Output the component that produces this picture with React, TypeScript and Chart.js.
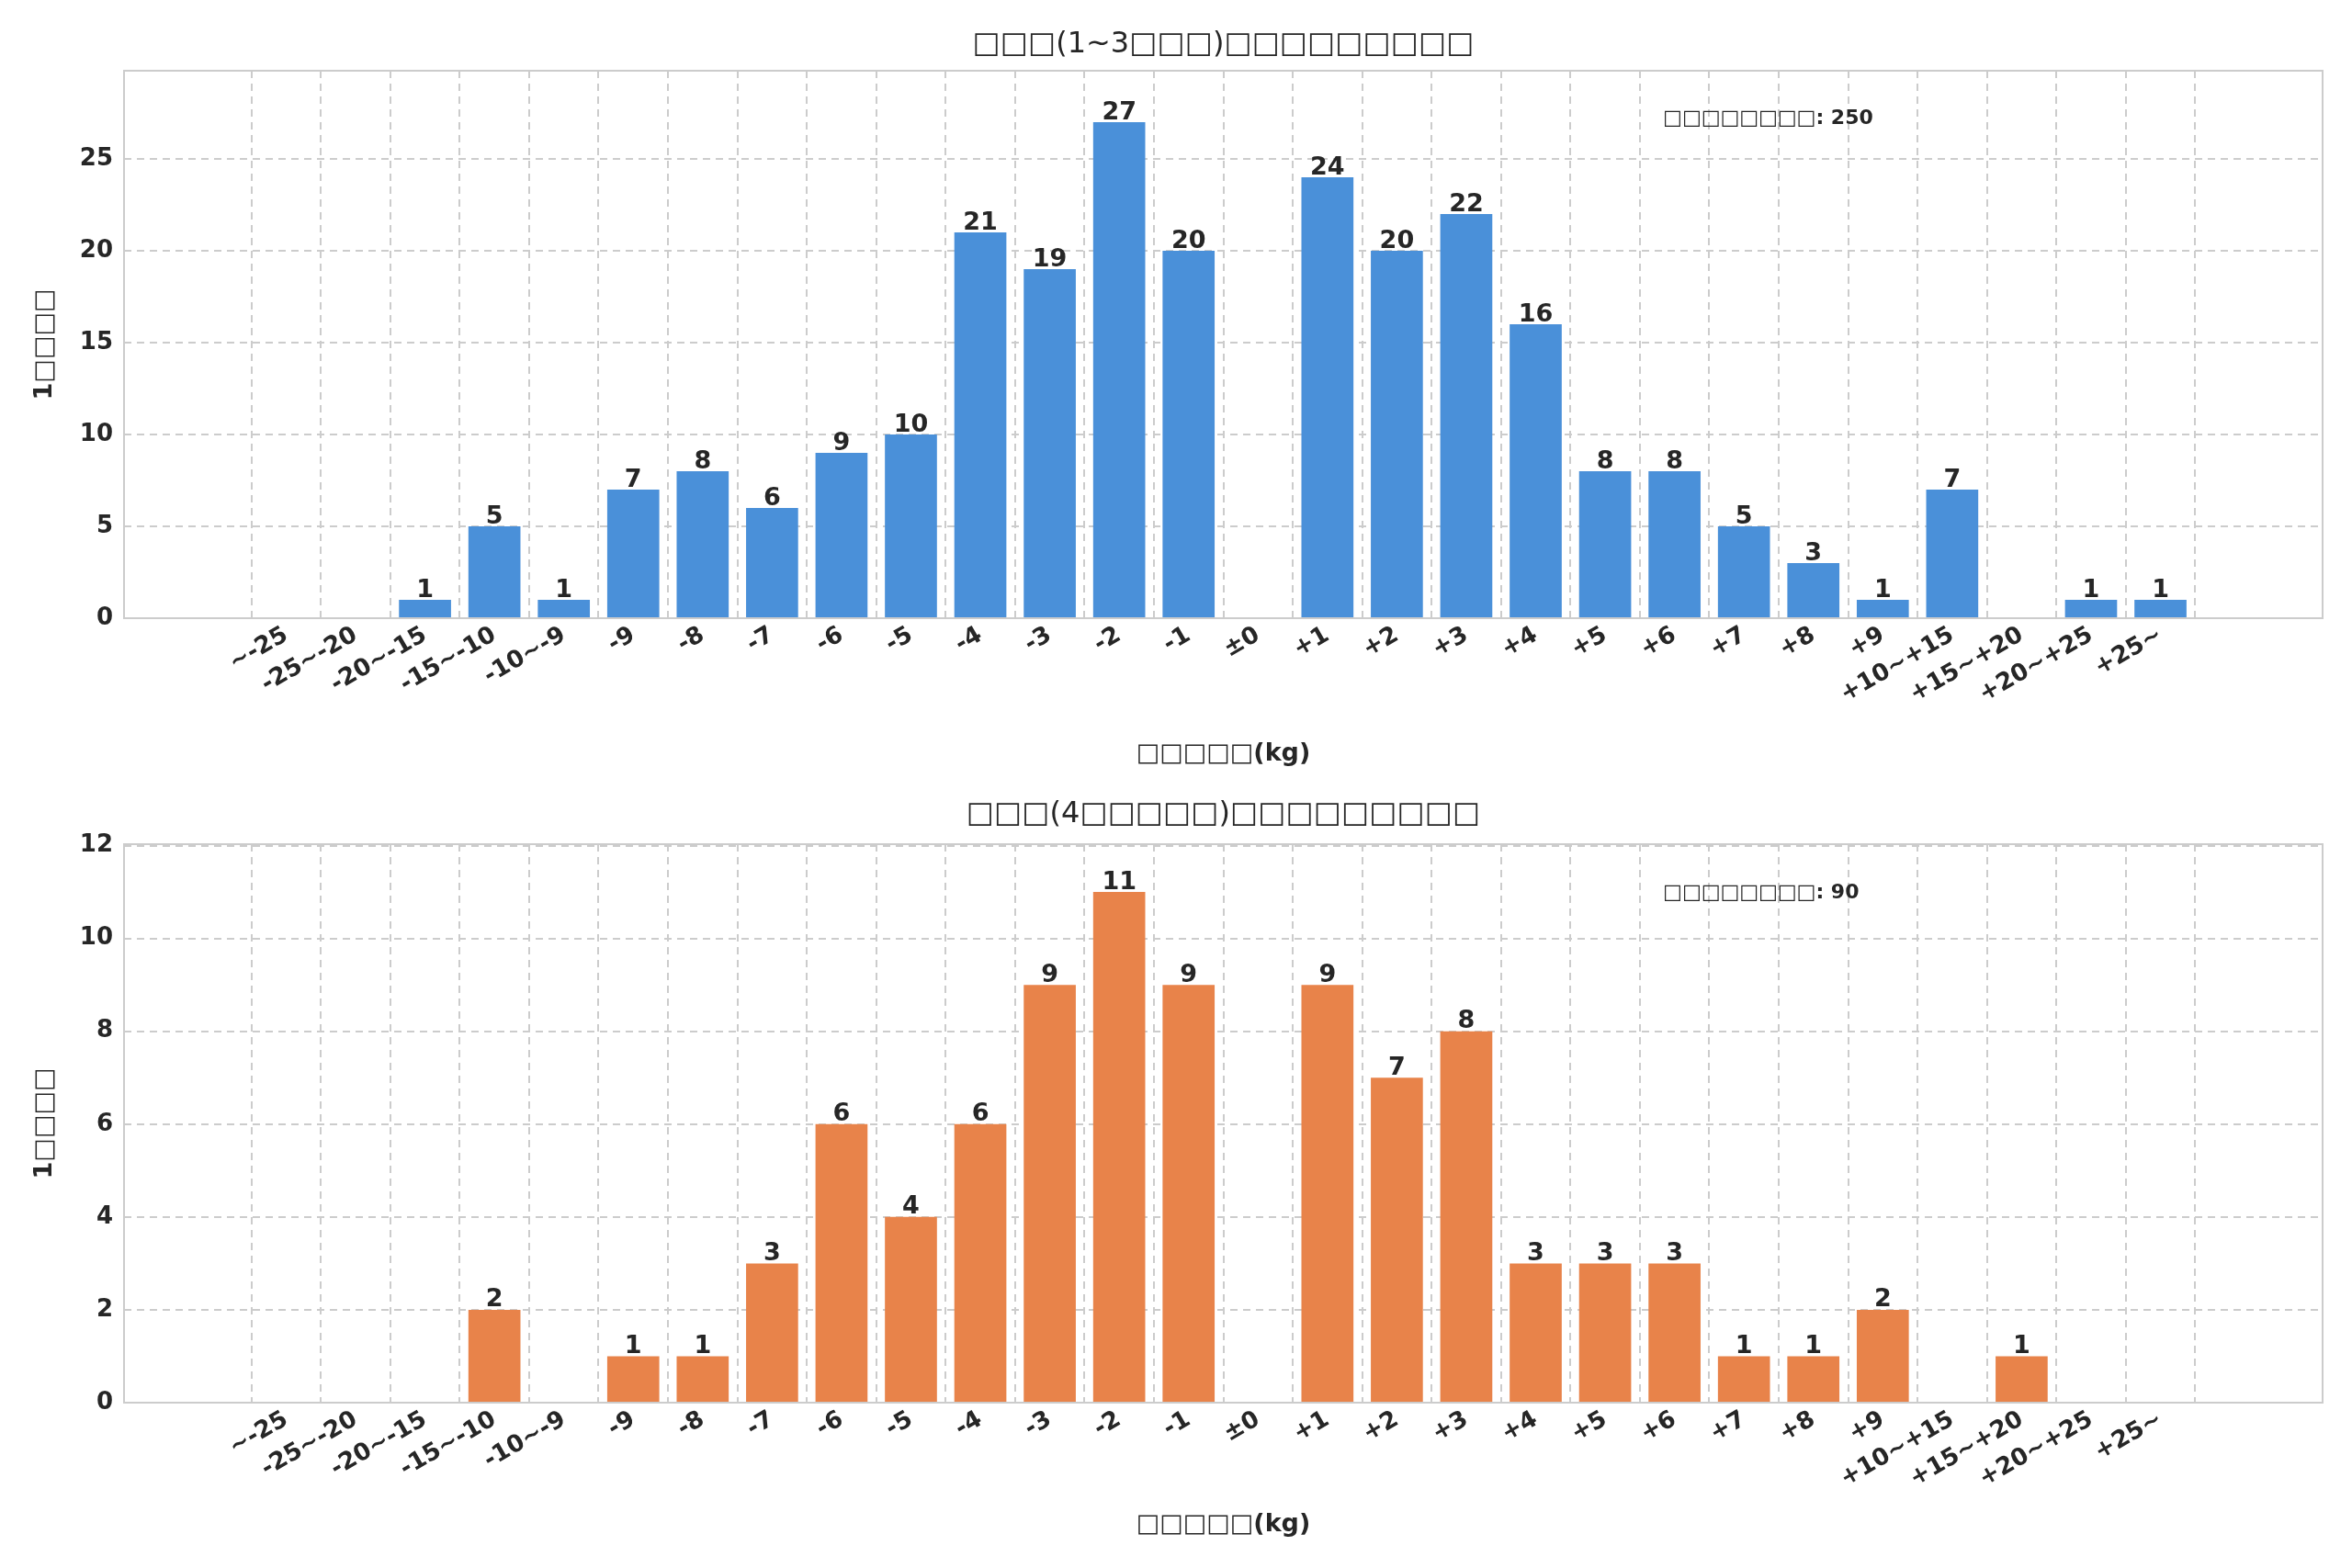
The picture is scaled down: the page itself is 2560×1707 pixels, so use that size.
import React, { useEffect, useRef } from "react";
import { Chart, registerables } from "chart.js";
Chart.register(...registerables);

const categories = ["~-25","-25~-20","-20~-15","-15~-10","-10~-9","-9","-8","-7","-6","-5","-4","-3","-2","-1","±0","+1","+2","+3","+4","+5","+6","+7","+8","+9","+10~+15","+15~+20","+20~+25","+25~"];
const valuesA = [0,0,1,5,1,7,8,6,9,10,21,19,27,20,0,24,20,22,16,8,8,5,3,1,7,0,1,1];
const valuesB = [0,0,0,2,0,1,1,3,6,4,6,9,11,9,0,9,7,8,3,3,3,1,1,2,0,1,0,0];
const titleA = "□□□(1~3□□□)□□□□□□□□□";
const titleB = "□□□(4□□□□□)□□□□□□□□□";
const noteA = "□□□□□□□□: 250";
const noteB = "□□□□□□□□: 90";
const xTitle = "□□□□□(kg)";
const yTitle = "1□□□□";

const FONT = "'DejaVu Sans', sans-serif";
const TXT = "#262626";

function makeChart(canvas: HTMLCanvasElement, values: number[], color: string, yMax: number, step: number, title: string, note: string, top: number, titleY: number, xTitleY: number) {
  const deco = {
    id: "deco",
    afterDatasetsDraw(chart: any) {
      const ctx = chart.ctx;
      const a = chart.chartArea;
      const xs = chart.scales.x, ys = chart.scales.y;
      ctx.save();
      ctx.fillStyle = TXT;
      ctx.textAlign = "center";
      ctx.textBaseline = "bottom";
      ctx.font = `bold 27px ${FONT}`;
      values.forEach((v, i) => {
        if (v > 0) ctx.fillText(String(v), xs.getPixelForValue(i), ys.getPixelForValue(v) + 3);
      });
      ctx.strokeStyle = "#cccccc";
      ctx.lineWidth = 2;
      ctx.strokeRect(a.left, a.top, a.right - a.left, a.bottom - a.top);
      ctx.font = `32px ${FONT}`;
      ctx.textBaseline = "middle";
      ctx.fillText(title, (a.left + a.right) / 2, titleY);
      ctx.font = `bold 27px ${FONT}`;
      ctx.fillText(xTitle, (a.left + a.right) / 2, xTitleY);
      ctx.font = `bold 22px ${FONT}`;
      ctx.textAlign = "left";
      ctx.fillText(note, a.left + 0.7 * (a.right - a.left), a.top + 0.088 * (a.bottom - a.top));
      ctx.translate(49, (a.top + a.bottom) / 2);
      ctx.rotate(-Math.PI / 2);
      ctx.textAlign = "center";
      ctx.font = `bold 27px ${FONT}`;
      ctx.fillText(yTitle, 0, 0);
      ctx.restore();
    },
  };
  return new Chart(canvas, {
    type: "bar",
    data: {
      datasets: [{
        data: values.map((v, i) => ({ x: i, y: v })),
        backgroundColor: color,
        barPercentage: 0.75,
        categoryPercentage: 1,
      }],
    },
    options: {
      animation: false,
      responsive: false,
      devicePixelRatio: 1,
      layout: { padding: { top, right: 32, left: 0, bottom: 0 } },
      plugins: { legend: { display: false }, tooltip: { enabled: false } },
      scales: {
        x: {
          type: "linear",
          min: -1.77,
          max: 28.77,
          afterBuildTicks: (s: any) => { s.ticks = categories.map((_, i) => ({ value: i })); },
          afterFit: (s: any) => { s.height = 180; },
          ticks: {
            autoSkip: false,
            minRotation: 30,
            maxRotation: 30,
            color: TXT,
            font: { family: FONT, size: 26, weight: "bold" },
            callback: (v: any) => categories[v] ?? "",
          },
          grid: { color: "#cccccc", lineWidth: 2, tickLength: 0, drawTicks: false },
          border: { display: false, dash: [8, 6] },
        },
        y: {
          min: 0,
          max: yMax,
          afterBuildTicks: (s: any) => { const t = []; for (let v = 0; v <= yMax; v += step) t.push({ value: v }); s.ticks = t; },
          afterFit: (s: any) => { s.width = 135; },
          ticks: { color: TXT, font: { family: FONT, size: 26, weight: "bold" }, padding: 12 },
          grid: { color: "#cccccc", lineWidth: 2, drawTicks: false },
          border: { display: false, dash: [8, 6] },
        },
      },
    },
    plugins: [deco],
  } as any);
}

export default function App() {
  const r1 = useRef<HTMLCanvasElement>(null);
  const r2 = useRef<HTMLCanvasElement>(null);
  useEffect(() => {
    const c1 = makeChart(r1.current!, valuesA, "#4a90d9", 29.8, 5, titleA, noteA, 77, 49, 821);
    const c2 = makeChart(r2.current!, valuesB, "#e8834a", 12.03, 2, titleB, noteB, 66, 34, 807);
    return () => { c1.destroy(); c2.destroy(); };
  }, []);
  return (
    <div style={{ position: "absolute", left: 0, top: 0, width: 2560, height: 1707, background: "#fff" }}>
      <canvas ref={r1} width={2560} height={853} style={{ display: "block", width: 2560, height: 853 }} />
      <canvas ref={r2} width={2560} height={854} style={{ display: "block", width: 2560, height: 854 }} />
    </div>
  );
}
